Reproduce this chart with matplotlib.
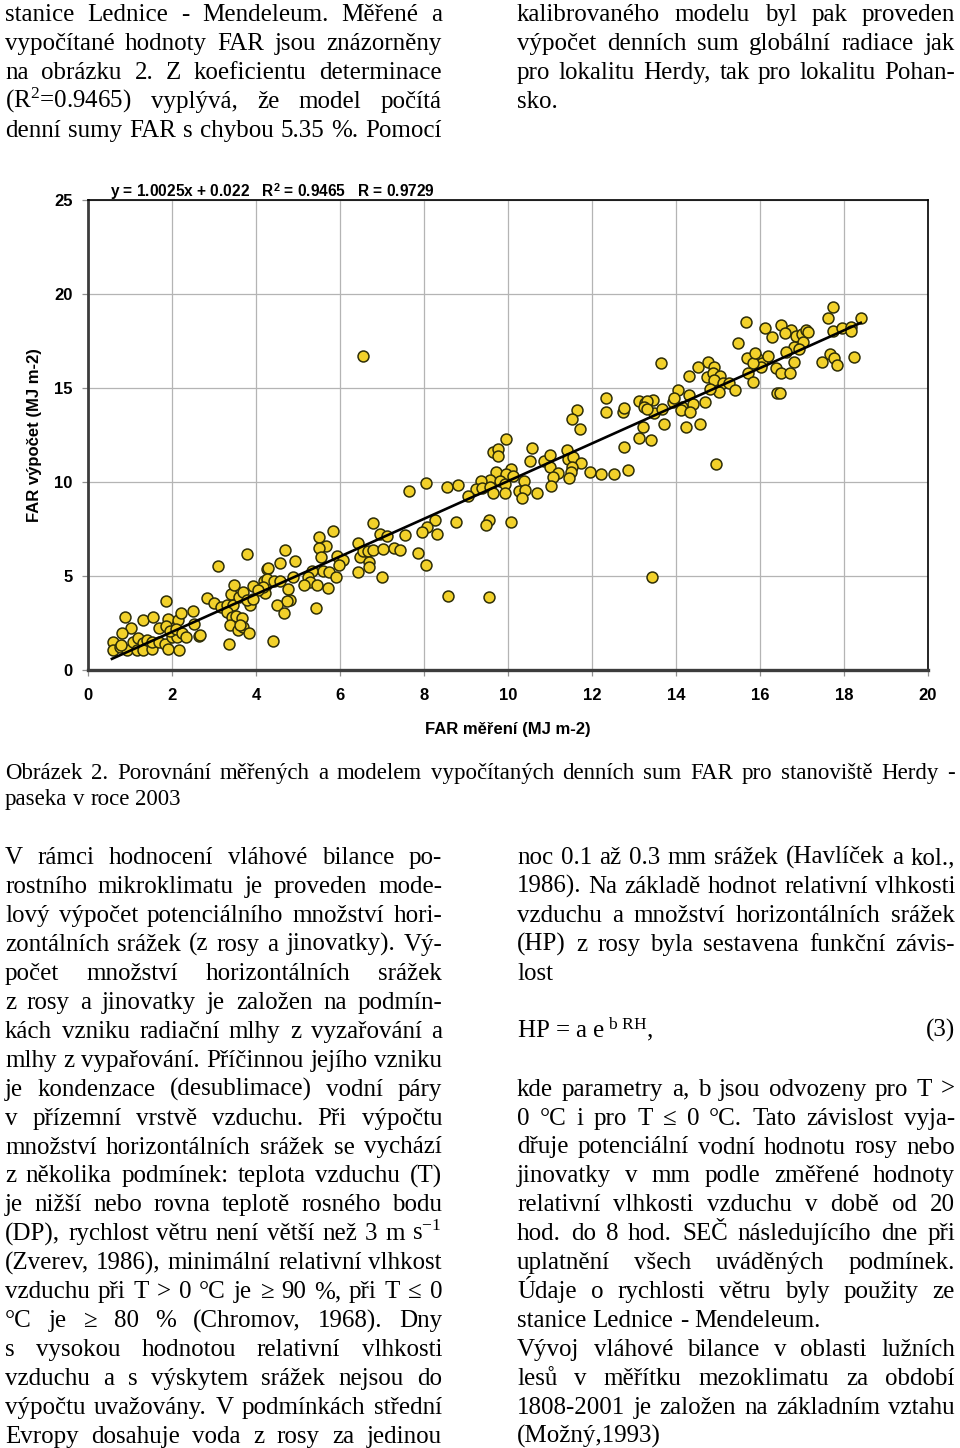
import matplotlib
matplotlib.use('Agg')
import matplotlib.pyplot as plt
from matplotlib.ticker import MultipleLocator

plt.rcParams['mathtext.fontset'] = 'custom'
plt.rcParams['mathtext.rm'] = 'Liberation Serif'
plt.rcParams['mathtext.it'] = 'Liberation Serif:italic'
plt.rcParams['mathtext.sf'] = 'Liberation Sans:bold'

pts_low = [(0.60, 1.49), (0.60, 1.06), (0.76, 1.22), (0.93, 1.06), (1.07, 1.49), (1.19, 1.70),
           (1.31, 1.44), (1.40, 1.60), (1.17, 1.06), (1.31, 1.06), (1.52, 1.12), (1.52, 1.49),
           (1.69, 1.49), (1.83, 1.38), (1.90, 1.12), (2.17, 1.06), (2.00, 1.76), (2.12, 1.76),
           (0.88, 2.82), (1.31, 2.66), (1.55, 2.82), (1.90, 2.71), (2.14, 2.66), (2.21, 3.03),
           (2.50, 3.14), (2.52, 2.45), (1.02, 2.23), (0.81, 1.97), (1.69, 2.23), (1.86, 2.34),
           (1.95, 2.07), (2.10, 2.18), (2.24, 1.97), (2.33, 1.76), (2.64, 1.81), (1.86, 3.67),
           (0.79, 1.33), (2.67, 1.86)]
pts_2_4 = [(2.83, 3.83), (3.00, 3.56), (3.17, 3.35), (3.31, 3.46), (3.45, 3.46), (3.31, 3.09),
           (3.43, 2.82), (3.52, 2.87), (3.67, 2.77), (3.86, 3.46), (3.38, 2.39), (3.57, 2.13),
           (3.69, 2.29), (3.83, 1.97), (3.36, 1.38), (3.40, 4.04), (3.60, 3.88), (3.69, 4.15),
           (3.48, 4.52), (3.93, 4.47), (4.19, 4.73), (4.21, 4.41), (4.21, 4.10), (3.79, 3.72),
           (3.79, 6.17), (3.10, 5.53), (4.26, 5.37), (4.40, 1.54), (3.62, 2.39)]
pts_4_8 = [(7.64, 9.52), (6.79, 7.82), (5.83, 7.39), (5.50, 7.07), (5.67, 6.60), (5.50, 6.49),
           (5.55, 6.01), (6.95, 7.23), (7.12, 7.13), (7.55, 7.18), (6.43, 6.76), (6.48, 6.01),
           (6.55, 6.33), (6.67, 6.33), (6.79, 6.38), (7.02, 6.44), (7.29, 6.49), (7.43, 6.38),
           (7.86, 6.22), (6.69, 5.74), (6.69, 5.48), (6.43, 5.21), (7.00, 4.95), (5.93, 6.06),
           (6.07, 5.85), (5.98, 5.59), (4.69, 6.38), (4.93, 5.80), (4.57, 5.69), (4.29, 5.43),
           (5.60, 5.27), (5.74, 5.21), (5.90, 4.95), (5.33, 5.27), (5.24, 4.95), (4.88, 4.95),
           (4.26, 4.84), (4.43, 4.73), (4.57, 4.73), (5.29, 4.68), (5.14, 4.52), (5.45, 4.52),
           (5.71, 4.36), (4.76, 4.31), (4.17, 4.41), (4.05, 4.26), (3.93, 3.78), (4.81, 3.72),
           (4.74, 3.67), (4.50, 3.46), (4.67, 3.03), (5.43, 3.30)]
pts_8_12 = [(11.64, 13.83), (12.33, 13.72), (11.52, 13.35), (11.71, 12.82), (9.95, 12.29),
            (10.57, 11.81), (9.64, 11.60), (9.76, 11.76), (9.76, 11.38), (10.52, 11.12),
            (10.86, 11.12), (11.00, 11.44), (11.40, 11.70), (11.43, 11.22), (11.55, 11.33),
            (11.74, 11.01), (11.00, 10.80), (11.52, 10.80), (11.50, 10.53), (11.19, 10.48),
            (11.07, 10.27), (11.45, 10.21), (11.95, 10.53), (12.21, 10.43), (12.52, 10.43),
            (10.07, 10.69), (9.71, 10.53), (9.95, 10.43), (10.12, 10.32), (9.57, 10.11),
            (9.81, 10.05), (9.36, 10.05), (9.93, 9.89), (10.38, 10.05), (9.24, 9.63),
            (9.38, 9.68), (9.57, 9.73), (9.64, 9.41), (9.93, 9.41), (10.26, 9.52),
            (10.40, 9.57), (10.33, 9.15), (10.69, 9.41), (11.02, 9.79), (9.05, 9.26),
            (8.05, 9.95), (8.55, 9.73), (8.81, 9.84), (8.26, 7.98), (8.76, 7.87),
            (9.55, 7.98), (9.48, 7.71), (10.07, 7.87), (8.07, 7.61), (7.95, 7.34),
            (8.31, 7.23), (8.05, 5.59), (8.57, 3.94), (9.55, 3.88)]
pts_12_14 = [(12.33, 14.47), (12.74, 13.72), (12.76, 13.94), (13.12, 14.31), (13.26, 14.20),
             (13.45, 14.36), (13.48, 13.67), (13.67, 13.88), (13.93, 14.26), (14.05, 14.89),
             (13.71, 13.09), (13.21, 12.93), (13.12, 12.34), (13.40, 12.23), (12.76, 11.86),
             (12.86, 10.64), (13.43, 4.95)]
pts_14_16 = [(15.48, 17.39), (13.64, 16.33), (14.76, 16.38), (14.90, 16.12), (14.52, 16.12),
             (14.31, 15.64), (14.74, 15.59), (14.88, 15.80), (15.05, 15.64), (14.90, 15.43),
             (15.12, 15.27), (15.26, 15.27), (15.69, 16.60), (15.83, 16.33), (15.88, 16.86),
             (15.71, 15.80), (15.83, 15.32), (15.40, 14.89), (15.02, 14.79), (14.81, 14.95),
             (14.31, 14.63), (13.95, 14.47), (14.40, 14.15), (14.69, 14.26), (14.14, 13.99),
             (14.12, 13.83), (14.33, 13.72), (14.24, 12.93), (14.57, 13.09), (13.31, 14.31),
             (13.24, 13.99), (13.31, 13.88), (14.95, 10.96)]
pts_16_19 = [(17.74, 19.31), (17.62, 18.72), (18.40, 18.72), (17.74, 18.03), (17.95, 18.19),
             (18.17, 18.24), (18.17, 18.03), (15.67, 18.51), (16.12, 18.19), (16.50, 18.35),
             (16.74, 18.09), (16.60, 17.93), (16.86, 17.77), (17.00, 17.87), (17.10, 18.09),
             (17.14, 17.98), (16.29, 17.71), (17.02, 17.45), (16.81, 17.18), (16.93, 17.07),
             (16.62, 16.91), (15.93, 16.60), (16.05, 16.33), (16.19, 16.70), (16.02, 16.12),
             (16.38, 16.06), (16.50, 15.80), (16.71, 15.80), (16.81, 16.38), (17.48, 16.38),
             (17.67, 16.81), (17.76, 16.60), (17.83, 16.22), (18.24, 16.65), (16.40, 14.73),
             (16.48, 14.73), (14.93, 15.48), (6.55, 16.70)]

all_pts = pts_low + pts_2_4 + pts_4_8 + pts_8_12 + pts_12_14 + pts_16_19 + pts_14_16
far_measured = [p[0] for p in all_pts]
far_model = [p[1] for p in all_pts]

# regression y = 1.0025x + 0.022
slope, intercept = 1.0025, 0.022
fit_range = [0.57, 18.40]

# page text
top_left = [("stanice Lednice - Mendeleum. Měřené a", True),
            ("vypočítané hodnoty FAR jsou znázorněny", True),
            ("na obrázku 2. Z koeficientu determinace", True),
            ("(R$^{2}$=0.9465) vyplývá, že model počítá", True),
            ("denní sumy FAR s chybou 5.35 %. Pomocí", True)]
top_right = [("kalibrovaného modelu byl pak proveden", True),
             ("výpočet denních sum globální radiace jak", True),
             ("pro lokalitu Herdy, tak pro lokalitu Pohan-", True),
             ("sko.", False)]
caption = [("Obrázek 2. Porovnání měřených a modelem vypočítaných denních sum FAR pro stanoviště Herdy -", True),
           ("paseka v roce 2003", False)]
bottom_left = [("V rámci hodnocení vláhové bilance po-", True),
               ("rostního mikroklimatu je proveden mode-", True),
               ("lový výpočet potenciálního množství hori-", True),
               ("zontálních srážek (z rosy a jinovatky). Vý-", True),
               ("počet množství horizontálních srážek", True),
               ("z rosy a jinovatky je založen na podmín-", True),
               ("kách vzniku radiační mlhy z vyzařování a", True),
               ("mlhy z vypařování. Příčinnou jejího vzniku", True),
               ("je kondenzace (desublimace) vodní páry", True),
               ("v přízemní vrstvě vzduchu. Při výpočtu", True),
               ("množství horizontálních srážek se vychází", True),
               ("z několika podmínek: teplota vzduchu (T)", True),
               ("je nižší nebo rovna teplotě rosného bodu", True),
               ("(DP), rychlost větru není větší než 3 m s$^{-1}$", True),
               ("(Zverev, 1986), minimální relativní vlhkost", True),
               ("vzduchu při T > 0 °C je ≥ 90 %, při T ≤ 0", True),
               ("°C je ≥ 80 % (Chromov, 1968). Dny", True),
               ("s vysokou hodnotou relativní vlhkosti", True),
               ("vzduchu a s výskytem srážek nejsou do", True),
               ("výpočtu uvažovány. V podmínkách střední", True),
               ("Evropy dosahuje voda z rosy za jedinou", True)]
bottom_right_a = [("noc 0.1 až 0.3 mm srážek (Havlíček a kol.,", True),
                  ("1986). Na základě hodnot relativní vlhkosti", True),
                  ("vzduchu a množství horizontálních srážek", True),
                  ("(HP) z rosy byla sestavena funkční závis-", True),
                  ("lost", False)]
bottom_right_b = [("kde parametry a, b jsou odvozeny pro T >", True),
                  ("0 °C i pro T ≤ 0 °C. Tato závislost vyja-", True),
                  ("dřuje potenciální vodní hodnotu rosy nebo", True),
                  ("jinovatky v mm podle změřené hodnoty", True),
                  ("relativní vlhkosti vzduchu v době od 20", True),
                  ("hod. do 8 hod. SEČ následujícího dne při", True),
                  ("uplatnění všech uváděných podmínek.", True),
                  ("Údaje o rychlosti větru byly použity ze", True),
                  ("stanice Lednice - Mendeleum.", False),
                  ("Vývoj vláhové bilance v oblasti lužních", True),
                  ("lesů v měřítku mezoklimatu za období", True),
                  ("1808-2001 je založen na základním vztahu", True),
                  ("(Možný,1993)", False)]

W, H = 960, 1448
SERIF = ['Liberation Serif', 'DejaVu Serif']
SANS = ['Liberation Sans', 'DejaVu Sans']
BODY = 18
CAP = 16.5
MIN_GAP = 4.5

fig = plt.figure(figsize=(W / 100, H / 100), dpi=100)
fig.patch.set_facecolor('white')
renderer = fig.canvas.get_renderer()


def word_widths(words, size):
    tmp = [fig.text(0, 0, w, fontsize=size, family=SERIF) for w in words]
    widths = [t.get_window_extent(renderer).width for t in tmp]
    for t in tmp:
        t.remove()
    return widths


def put_line(text, x0, x1, base, size, justify):
    words = text.split()
    widths = word_widths(words, size)
    n_gaps = max(len(words) - 1, 1)
    room = x1 - x0 - n_gaps * MIN_GAP
    if justify and sum(widths) > room:
        # line too long for the column at this size: shrink it
        size = size * room / sum(widths)
        widths = word_widths(words, size)
    if justify and len(words) > 1:
        gap = (x1 - x0 - sum(widths)) / (len(words) - 1)
    else:
        gap = size * 0.25 * 100 / 72
    x = x0
    for w, wd in zip(words, widths):
        fig.text(x / W, 1 - base / H, w, fontsize=size, family=SERIF,
                 va='baseline', ha='left')
        x += wd + gap


def put_block(lines, x0, x1, base0, step, size):
    for i, (txt, just) in enumerate(lines):
        put_line(txt, x0, x1, base0 + i * step, size, just)


put_block(top_left, 5, 442, 21, 29, BODY)
put_block(top_right, 517, 955, 21, 29, BODY)
put_block(caption, 5, 955, 779, 26, CAP)
put_block(bottom_left, 5, 442, 864, 28.95, BODY)
put_block(bottom_right_a, 517, 955, 864, 28.95, BODY)
fig.text(517 / W, 1 - 1037 / H, r'HP = a e$^{\rm \ b\ RH}$,', fontsize=BODY, family=SERIF,
         va='baseline', ha='left')
fig.text(955 / W, 1 - 1037 / H, '(3)', fontsize=BODY, family=SERIF, va='baseline', ha='right')
put_block(bottom_right_b, 517, 955, 864 + 8 * 28.95, 28.95, BODY)

# chart
ax = fig.add_axes([88 / W, 1 - 670 / H, 840 / W, 470 / H])
ax.set_xlim(0, 20)
ax.set_ylim(0, 25)
ax.xaxis.set_major_locator(MultipleLocator(2))
ax.yaxis.set_major_locator(MultipleLocator(5))
ax.grid(True, color='#b4b4b4', linewidth=0.9)
ax.set_axisbelow(True)

ax.scatter(far_measured, far_model, s=62, facecolor='#f2d12a', edgecolor='#2e2e08',
           linewidth=1.1, zorder=3)
ax.plot(fit_range, [slope * v + intercept for v in fit_range], color='black', lw=1.9, zorder=4)

ax.spines['left'].set_color('#3c3c3c')
ax.spines['left'].set_linewidth(2.0)
ax.spines['bottom'].set_color('#3c3c3c')
ax.spines['bottom'].set_linewidth(2.4)
ax.spines['top'].set_linewidth(1.2)
ax.spines['right'].set_linewidth(1.2)

ax.tick_params(axis='both', color='#909090', length=4, width=0.9, labelsize=12)
ax.tick_params(axis='x', pad=9)
ax.tick_params(axis='y', pad=7)
for lab in ax.get_xticklabels() + ax.get_yticklabels():
    lab.set_fontweight('bold')
    lab.set_family(SANS)

ax.set_xlabel('FAR měření (MJ m-2)', fontsize=12, fontweight='bold', family=SANS, va='center')
ax.xaxis.set_label_coords(0.5, -(729 - 670) / 470)
ax.set_ylabel('FAR výpočet (MJ m-2)', fontsize=12, fontweight='bold', family=SANS, va='center')
ax.yaxis.set_label_coords(-(88 - 35) / 840, 0.5)

fig.text(110 / W, 1 - 197 / H,
         r'y = 1.0025x + 0.022   R$^{\mathsf{2}}$ = 0.9465   R = 0.9729',
         fontsize=11.2, fontweight='bold', family=SANS, va='baseline', ha='left')

fig.savefig('out.png', dpi=100)
